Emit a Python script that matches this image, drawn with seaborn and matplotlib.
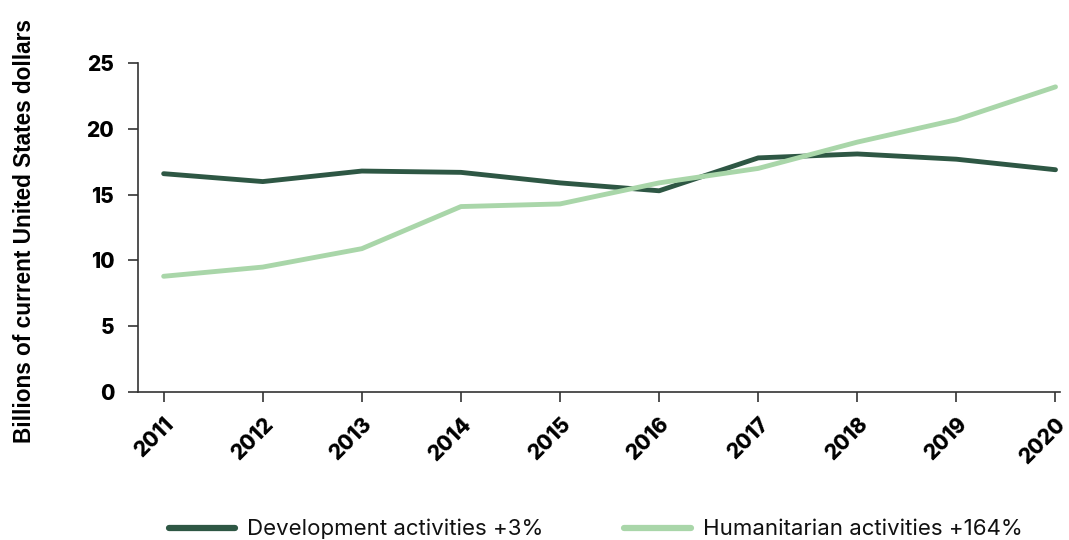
import pandas as pd
import seaborn as sns
import matplotlib.pyplot as plt
from matplotlib.font_manager import FontProperties

years = [2011, 2012, 2013, 2014, 2015, 2016, 2017, 2018, 2019, 2020]
development = [16.6, 16.0, 16.8, 16.7, 15.9, 15.3, 17.8, 18.1, 17.7, 16.9]
humanitarian = [8.8, 9.5, 10.9, 14.1, 14.3, 15.9, 17.0, 19.0, 20.7, 23.2]
series_names = ['Development activities +3%', 'Humanitarian activities +164%']

df = pd.DataFrame({'Year': years * 2,
                   'Value': development + humanitarian,
                   'Series': [series_names[0]] * len(years) + [series_names[1]] * len(years)})

sns.set_style('ticks')
plt.rcParams['font.family'] = ['Inter', 'DejaVu Sans']

fig = plt.figure(figsize=(10.69, 5.4), dpi=100)
ax = fig.add_axes([0.129, 0.274, 0.863, 0.609])

palette = {series_names[0]: '#2e5744', series_names[1]: '#a9d6a9'}
sns.lineplot(data=df, x='Year', y='Value', hue='Series', palette=palette,
             linewidth=3.5, ax=ax, legend=False, solid_capstyle='round', solid_joinstyle='round')

ax.set_xlim(2010.74, 2020.05)
ax.set_ylim(0, 25)
ax.set_xticks(years)
ax.set_yticks([0, 5, 10, 15, 20, 25])
tick_font = {'family': ['Inter', 'DejaVu Sans'], 'size': 15, 'weight': 'heavy'}
ax.set_xticklabels([str(y) for y in years], rotation=45, ha='right', rotation_mode='anchor',
                   fontdict=tick_font, color='black')
ax.set_yticklabels(['0', '5', '10', '15', '20', '25'], fontdict=tick_font, color='black')
ax.tick_params(axis='both', direction='out', length=7, width=1.2, color='#333333',
               bottom=True, left=True)
ax.tick_params(axis='y', pad=10)
ax.tick_params(axis='x', pad=9)

for side in ['top', 'right']:
    ax.spines[side].set_visible(False)
for side in ['left', 'bottom']:
    ax.spines[side].set_color('#333333')
    ax.spines[side].set_linewidth(1.2)

ax.set_xlabel('')
label_font = FontProperties(family='Liberation Sans', weight='bold', size=16.3)
ax.set_ylabel('Billions of current United States dollars', fontproperties=label_font, color='black')
ax.yaxis.set_label_coords(-0.11, 0.49)

handles = [plt.Line2D([], [], color=palette[n], linewidth=4.5, solid_capstyle='round') for n in series_names]
fig.legend(handles, series_names, loc='lower left', bbox_to_anchor=(0.139, -0.036), ncol=2,
           frameon=False, handlelength=3.0, columnspacing=3.6, handletextpad=0.55,
           prop={'family': ['Inter', 'DejaVu Sans'], 'size': 16})
for t in fig.legends[0].get_texts():
    t.set_color('#111111')

fig.savefig('out.png', dpi=100)
